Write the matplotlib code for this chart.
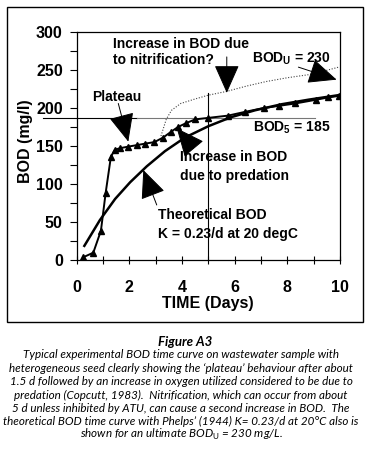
import matplotlib
matplotlib.use("Agg")
import matplotlib.pyplot as plt
from matplotlib.patches import Rectangle

plt.rcParams['font.family'] = ['Liberation Sans', 'DejaVu Sans']
plt.rcParams['mathtext.fontset'] = 'custom'
plt.rcParams['mathtext.bf'] = 'Liberation Sans:bold'
plt.rcParams['mathtext.rm'] = 'Lato'
plt.rcParams['mathtext.default'] = 'bf'

# experimental BOD (days, mg/l)
exp_t = [0.25, 0.63, 0.92, 1.1, 1.3, 1.45, 1.65, 1.95, 2.28, 2.6, 2.95, 3.28,
         3.6, 3.85, 4.15, 4.5, 5.0, 5.75, 6.4, 7.1, 7.7, 8.3, 9.1, 9.55, 9.95]
exp_bod = [3, 9, 38, 88, 136, 145, 147, 149, 151, 153, 155, 161,
           169, 175, 180, 185, 187, 190, 195, 200, 203, 206, 211, 214, 216]

# theoretical curve K = 0.23/d
theo_t = [0.29, 0.88, 1.46, 2.03, 2.66, 3.35, 4.11, 5.0, 5.87, 6.77, 7.78, 8.8, 9.94]
theo_bod = [18, 52, 80, 102, 123, 143, 161, 176, 188, 197, 205, 211, 217]

# possible nitrification curve (dotted)
nitr_t = [3.2, 3.4, 3.6, 3.95, 4.5, 5.0, 5.7, 6.45, 7.2, 8.0, 8.8, 9.3, 9.95]
nitr_bod = [163, 185, 197, 206, 212, 217, 222, 229, 235, 240, 244, 248, 254]

bod5_day = 5
bod5_line = 187
bod5_top = 220

caption_title = "Figure A3"
caption_lines = [
    "Typical experimental BOD time curve on wastewater sample with",
    "heterogeneous seed clearly showing the \u2018plateau\u2019 behaviour after about",
    "1.5 d followed by an increase in oxygen utilized considered to be due to",
    "predation (Copcutt, 1983).  Nitrification, which can occur from about",
    "5 d unless inhibited by ATU, can cause a second increase in BOD.  The",
    "theoretical BOD time curve with Phelps\u2019 (1944) K= 0.23/d at 20\u00b0C also is",
    r"shown for an ultimate BOD$_{\mathrm{U}}$ = 230 mg/L.",
]

W, H = 371, 467
fig = plt.figure(figsize=(W / 100, H / 100), dpi=100)
fig.add_artist(Rectangle((7 / W, 1 - 322 / H), 356 / W, 315 / H,
                         transform=fig.transFigure, fill=False, lw=1.0, ec='black'))

ax = fig.add_axes([76.7 / W, 1 - 259.5 / H, 263.3 / W, 227.2 / H])
ax.set_xlim(0, 10)
ax.set_ylim(0, 300)

ax.plot(exp_t, exp_bod, color='black', lw=1.4, marker='^', ms=4.8, zorder=4)
ax.plot(theo_t, theo_bod, color='black', lw=1.8, zorder=3)
ax.plot(nitr_t, nitr_bod, color='#444444', lw=0.8, ls=(0, (1, 1.5)), zorder=2)

ax.plot([bod5_day, bod5_day], [0, bod5_top], color='black', lw=0.8)
ax.plot([-1.28, 2.3], [bod5_line, bod5_line], color='black', lw=0.8, clip_on=False)
ax.plot([2.3, 9.05], [bod5_line, bod5_line], color='#777777', lw=0.8)

ax.set_xticks(range(0, 11, 2))
ax.set_xticks(range(0, 11), minor=True)
ax.set_yticks(range(0, 301, 50))
ax.set_yticks(range(0, 301, 25), minor=True)
ax.tick_params(axis='y', which='both', direction='out', length=5, width=0.8, pad=5)
ax.tick_params(axis='x', which='both', direction='inout', length=6, width=0.8, pad=12)
ax.tick_params(labelsize=11.5)
for lab in ax.get_xticklabels() + ax.get_yticklabels():
    lab.set_fontweight('bold')
for s in ax.spines.values():
    s.set_linewidth(0.9)

ax.set_xlabel('TIME (Days)', fontsize=11.5, fontweight='bold')
ax.set_ylabel('BOD (mg/l)', fontsize=11.5, fontweight='bold')
ax.xaxis.set_label_coords(0.499, -0.16)
ax.yaxis.set_label_coords(-0.165, 0.52)

tk = dict(fontsize=10, fontweight='bold', va='center', ha='left')
ax.text(1.39, 284.7, 'Increase in BOD due', **tk)
ax.text(1.39, 263.5, 'to nitrification?', **tk)
ax.text(6.66, 264.5, r'BOD$_U$ = 230', **tk)
ax.text(0.58, 215, 'Plateau', **tk)
ax.text(6.7, 173.7, r'BOD$_5$ = 185', **tk)
ax.text(3.92, 134.7, 'Increase in BOD', **tk)
ax.text(3.92, 110, 'due to predation', **tk)
ax.text(3.09, 58.8, 'Theoretical BOD', **tk)
ax.text(3.09, 33.7, 'K = 0.23/d at 20 degC', **tk)

# arrows: (tail, tip)
arrows = [((5.7, 267.5), (5.7, 220)),
          ((8.42, 254), (9.87, 237.5)),
          ((1.58, 206), (1.96, 155.6)),
          ((4.43, 146.9), (3.8, 173.3)),
          ((3.04, 72), (2.53, 118.2))]
for tail, tip in arrows:
    ax.annotate('', xy=tip, xytext=tail,
                arrowprops=dict(arrowstyle='-|>,head_length=1.8,head_width=0.8',
                                lw=0.7, color='black', shrinkA=0, shrinkB=0,
                                mutation_scale=10))

# caption, sized so the widest line spans the same width as the original
fig.text(185 / W, 1 - 341.7 / H, caption_title, fontsize=9.5, fontweight='bold',
         style='italic', family='Lato', ha='center', va='center')
cap_y = [355, 368.3, 381.7, 395, 408.3, 421, 434]
cap_texts = [fig.text(181 / W, 1 - y / H, line, fontsize=9, style='italic',
                      family='Lato', ha='center', va='center')
             for line, y in zip(caption_lines, cap_y)]
rend = fig.canvas.get_renderer()
widest = max(t.get_window_extent(rend).width for t in cap_texts)
for t in cap_texts:
    t.set_fontsize(9 * 356 / widest)

fig.savefig('out.png', dpi=100)
